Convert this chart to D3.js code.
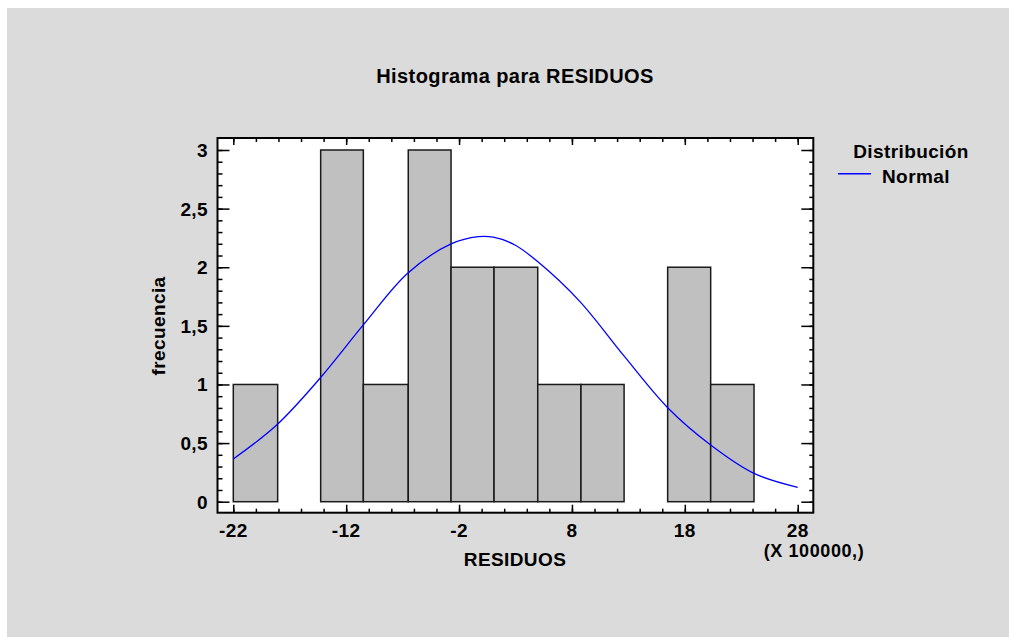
<!DOCTYPE html>
<html>
<head>
<meta charset="utf-8">
<script src="https://cdn.jsdelivr.net/npm/d3@7"></script>
<style>
  body { margin: 0; background: #fff; }
  text { font-family: "Liberation Sans", Arial, sans-serif; font-weight: bold; fill: #000; letter-spacing: 0.4px; }
</style>
</head>
<body>
<div id="chart"></div>
<script>
// bin edges (x 100000) and counts per bin
var binEdges = [-22, -18.07, -14.26, -10.48, -6.5, -2.71, 1.1, 4.97, 8.8, 12.62, 16.48, 20.29, 24.13];
var counts = [1, 0, 3, 1, 3, 2, 2, 1, 1, 0, 2, 1];

// fitted normal curve
var curveX = [-22, -18.16, -14.32, -10.48, -6.55, -2.71, -0.29, 1.03, 2.95, 4.96, 8.71, 12.54, 16.48, 20.29, 24.13, 28];
var curveY = [0.364, 0.654, 1.053, 1.508, 1.949, 2.199, 2.261, 2.256, 2.19, 2.048, 1.707, 1.252, 0.802, 0.484, 0.242, 0.123];

var xTicks = [-22, -12, -2, 8, 18, 28];
var yTicks = [0, 0.5, 1, 1.5, 2, 2.5, 3];

var W = 1009, H = 637;
var svg = d3.select("#chart").append("svg").attr("width", W).attr("height", H);

svg.append("rect").attr("x", 7).attr("y", 8).attr("width", W - 7).attr("height", H - 8)
   .style("fill", "#dbdbdb");

// plot frame
var L = 217.5, R = 813.3, T = 138, B = 512.7;
var x = d3.scaleLinear().domain([-22, 28]).range([233.3, 797.7]);
var y = d3.scaleLinear().domain([0, 3]).range([501.7, 150]);

svg.append("rect").attr("x", L).attr("y", T).attr("width", R - L).attr("height", B - T)
   .style("fill", "white");

// bars
var bins = counts.map(function (c, i) { return {x0: binEdges[i], x1: binEdges[i + 1], n: c}; })
                 .filter(function (d) { return d.n > 0; });
svg.selectAll("rect.bar").data(bins).enter().append("rect")
   .attr("class", "bar")
   .attr("x", function (d) { return x(d.x0); })
   .attr("y", function (d) { return y(d.n); })
   .attr("width", function (d) { return x(d.x1) - x(d.x0); })
   .attr("height", function (d) { return y(0) - y(d.n); })
   .style("fill", "#c0c0c0")
   .style("stroke", "#1a1a1a")
   .style("stroke-width", 1.5);

// normal curve
var pts = curveX.map(function (v, i) { return [v, curveY[i]]; });
var line = d3.line().x(function (d) { return x(d[0]); }).y(function (d) { return y(d[1]); })
             .curve(d3.curveCatmullRom);
svg.append("path").datum(pts).attr("d", line)
   .style("fill", "none").style("stroke", "#0000ff").style("stroke-width", 1.3);

// ticks
var xMinor = d3.range(-22, 29, 2);
var yMinor = d3.range(0, 31).map(function (i) { return i / 10; });
var fmt = function (d) { return String(d).replace(".", ","); };

function tickAxis(axis, tr) {
  var g = svg.append("g").attr("transform", tr).call(axis);
  g.select(".domain").remove();
  g.selectAll("line").style("stroke", "#000").style("stroke-width", 1.5);
  return g;
}
tickAxis(d3.axisBottom(x).tickValues(xMinor).tickSize(-4).tickFormat(""), "translate(0," + B + ")");
tickAxis(d3.axisTop(x).tickValues(xMinor).tickSize(-4).tickFormat(""), "translate(0," + T + ")");
tickAxis(d3.axisBottom(x).tickValues(xTicks).tickSize(-8).tickFormat(""), "translate(0," + B + ")");
tickAxis(d3.axisTop(x).tickValues(xTicks).tickSize(-7).tickFormat(""), "translate(0," + T + ")");
tickAxis(d3.axisLeft(y).tickValues(yMinor).tickSize(-5).tickFormat(""), "translate(" + L + ",0)");
tickAxis(d3.axisRight(y).tickValues(yMinor).tickSize(-4).tickFormat(""), "translate(" + R + ",0)");
tickAxis(d3.axisLeft(y).tickValues(yTicks).tickSize(-12).tickFormat(""), "translate(" + L + ",0)");
tickAxis(d3.axisRight(y).tickValues(yTicks).tickSize(-12).tickFormat(""), "translate(" + R + ",0)");

// frame border
svg.append("rect").attr("x", L).attr("y", T).attr("width", R - L).attr("height", B - T)
   .style("fill", "none").style("stroke", "#000").style("stroke-width", 2);

// tick labels
svg.selectAll("text.xl").data(xTicks).enter().append("text")
   .attr("x", function (d) { return x(d); }).attr("y", 537)
   .attr("text-anchor", "middle").attr("font-size", 19)
   .text(function (d) { return d; });
svg.selectAll("text.yl").data(yTicks).enter().append("text")
   .attr("x", 208).attr("y", function (d) { return y(d) + 7; })
   .attr("text-anchor", "end").attr("font-size", 19)
   .text(fmt);

// titles
svg.append("text").attr("x", 515).attr("y", 83).attr("text-anchor", "middle")
   .attr("font-size", 20).text("Histograma para RESIDUOS");
svg.append("text").attr("x", 515).attr("y", 566).attr("text-anchor", "middle")
   .attr("font-size", 19).text("RESIDUOS");
svg.append("text").attr("x", 814).attr("y", 557).attr("text-anchor", "middle")
   .attr("font-size", 18).style("letter-spacing", "0.6px").text("(X 100000,)");
svg.append("text").attr("transform", "translate(165,326) rotate(-90)")
   .attr("text-anchor", "middle").attr("font-size", 19).text("frecuencia");

// legend
svg.append("text").attr("x", 911).attr("y", 158).attr("text-anchor", "middle")
   .attr("font-size", 19).text("Distribución");
svg.append("line").attr("x1", 838).attr("x2", 871).attr("y1", 173.7).attr("y2", 173.7)
   .style("stroke", "#0000ff").style("stroke-width", 1.5);
svg.append("text").attr("x", 882).attr("y", 183).attr("font-size", 19).text("Normal");
</script>
</body>
</html>
